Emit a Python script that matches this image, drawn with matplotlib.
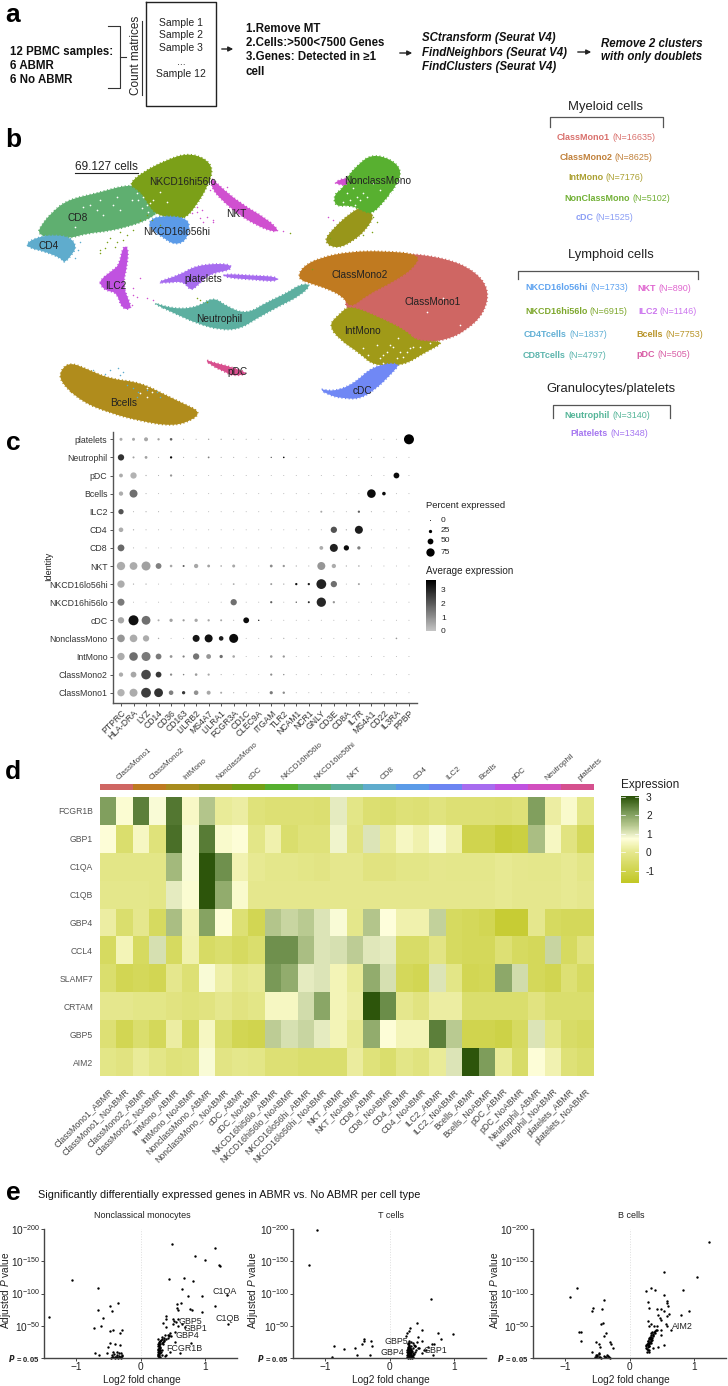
import numpy as np
import matplotlib
matplotlib.use("Agg")
import matplotlib.pyplot as plt
from matplotlib.colors import LinearSegmentedColormap
from matplotlib.path import Path
from matplotlib.patches import PathPatch

plt.rcParams['font.family'] = ['Liberation Sans', 'DejaVu Sans']
plt.rcParams['mathtext.fontset'] = 'custom'
plt.rcParams['mathtext.rm'] = 'Liberation Sans'
plt.rcParams['mathtext.it'] = 'Liberation Sans:italic'
plt.rcParams['mathtext.bf'] = 'Liberation Sans:bold'
plt.rcParams['mathtext.default'] = 'regular'

W, H = 728, 1386

# ---- panel b data: cluster outlines in umap units, draw order matters
umap_clusters = [
    ("CD8", "#5FAF70", [(112,325),(125,300),(150,268),(200,225),(290,205),(385,178),(440,190),(470,240),(475,262),(440,285),(400,300),(330,318),(260,325),(210,340),(150,340)]),
    ("CD4", "#5FACCD", [(78,355),(110,338),(150,330),(210,335),(230,365),(215,390),(192,415),(185,400),(130,378),(90,370)]),
    ("NKhi", "#7BA018", [(385,178),(430,140),(500,105),(560,85),(612,98),(640,130),(625,180),(590,240),(552,285),(500,278),(460,262),(435,220),(415,195)]),
    ("NKlo", "#5B9BE8", [(445,288),(480,272),(565,278),(568,320),(552,352),(520,358),(490,338),(455,315)]),
    ("NKT", "#D050D0", [(632,155),(660,185),(725,238),(795,278),(840,318),(815,320),(765,298),(715,268),(665,225),(635,190)]),
    ("IntLow", "#98961A", [(970,350),(1000,310),(1050,265),(1085,245),(1125,268),(1100,312),(1060,348),(1010,372)]),
    ("NC", "#58B030", [(1038,160),(1075,118),(1115,88),(1172,102),(1205,135),(1192,178),(1150,232),(1115,268),(1085,256),(1050,240),(1005,245),(1002,208),(1030,190)]),
    ("NCpink", "#D050D0", [(1002,172),(1042,156),(1042,182),(1015,178)]),
    ("CM1", "#CF6663", [(1200,382),(1340,400),(1425,438),(1468,495),(1452,565),(1400,615),(1340,645),(1250,655),(1200,640),(1100,590),(1020,540),(1080,470),(1150,410)]),
    ("CM2", "#C07A20", [(892,460),(908,425),(960,398),(1050,380),(1150,378),(1262,388),(1240,430),(1180,470),(1100,510),(1052,550),(1030,515),(980,490),(930,475)]),
    ("Int", "#A09A18", [(985,600),(1018,568),(1048,540),(1140,578),(1220,618),(1250,650),(1340,648),(1270,685),(1210,722),(1120,722),(1080,685),(1020,645)]),
    ("cDC", "#7088F5", [(955,790),(1000,800),(1060,778),(1120,722),(1205,712),(1172,748),(1130,790),(1080,822),(1030,820),(990,812)]),
    ("Neu", "#5CAFA0", [(445,528),(520,552),(590,548),(640,515),(680,545),(740,568),(800,532),(860,505),(900,478),(935,478),(900,512),(840,542),(770,580),(720,612),(660,615),(590,595),(530,568)]),
    ("plt", "#A76CEF", [(468,472),(540,450),(590,420),(690,415),(695,435),(630,445),(592,482),(572,498),(550,468),(500,474)]),
    ("plt2", "#A76CEF", [(668,446),(760,452),(832,455),(832,470),(760,464),(678,458)]),
    ("ILC2", "#C052E0", [(300,465),(335,438),(358,420),(368,365),(385,365),(382,420),(368,480),(388,530),(394,552),(366,552),(350,502),(320,498),(302,482)]),
    ("pDC", "#D84F8E", [(612,702),(640,713),(680,722),(750,745),(700,754),(670,738),(640,725)]),
    ("B", "#B08C1C", [(180,770),(182,735),(210,712),(260,732),(330,762),(420,772),(500,812),(555,838),(600,860),(580,884),(519,904),(420,888),(330,864),(245,830)]),
]
umap_labels = [("CD8",234,279),("CD4",146,362),("NKCD16hi56lo",548,170),("NKCD16lo56hi",530,322),("NKT",708,266),
               ("NonclassMono",1132,167),("ClassMono2",1080,449),("ClassMono1",1298,531),("IntMono",1086,618),("cDC",1088,797),
               ("ILC2",348,484),("platelets",610,463),("Neutrophil",658,583),("pDC",712,740),("Bcells",370,835)]
# stray cells outside the main blobs
stray_green_x = [330,350,370,345,300,315,600,620,590,870,1130,1120,1115,1090,440,420,455,480,400,380,360,320,300,935,1100,990]
stray_green_y = [340,350,345,365,385,370,525,530,520,323,290,275,320,330,270,285,285,300,315,330,320,352,375,432,300,340]
stray_pink_x = [600,620,640,590,610,640,985,1000,420,400,410,440,460,575,590,605,630,650,680,700,810,850,400,395]
stray_pink_y = [280,275,285,260,290,290,275,285,460,490,515,520,525,265,245,255,195,205,185,230,290,318,510,540]
stray_white_x = [430,415,440,450,290,270,310,1070,1050,1090,1200,1280,1330,1380,1150,1190,470,420,440,
                 340,360,395,410,425,460,480,500,445,1040,1060,1080,1030,1065,1100,1140,1170,1120,1230,1260,1290,
                 1130,1160,1140,1180,1210,1240,1105,1150,1170,1195,1220,1090,300,250,350,225,470,440,455]
stray_white_y = [215,225,240,235,255,240,270,215,225,205,680,560,520,600,690,700,160,805,815,
                 240,255,225,205,250,225,200,230,262,205,190,225,230,240,215,195,205,175,670,665,655,
                 660,680,700,665,695,665,690,715,660,640,680,670,225,245,215,305,780,790,800]
stray_blue_x = [280,330,370,315,360,355,400,415,440,470,480,380,410,235,240,225]
stray_blue_y = [735,735,740,748,750,730,790,800,795,800,815,780,815,375,350,400]

# ---- legend text next to umap
myeloid_entries = [("ClassMono1","(N=16635)","#D9706C",170,142),("ClassMono2","(N=8625)","#C0803A",178,202),
                   ("IntMono","(N=7176)","#ABA032",205,263),("NonClassMono","(N=5102)","#71B035",194,325),("cDC","(N=1525)","#8B9EF5",226,384)]
lymphoid_entries = [("NKCD16lo56hi","(N=1733)","#5FA3F0",77,592),("NKCD16hi56lo","(N=6915)","#7FA82E",75,663),
                    ("CD4Tcells","(N=1837)","#62B0D5",72,734),("CD8Tcells","(N=4797)","#5DB5AD",69,797),
                    ("NKT","(N=890)","#E066D0",413,595),("ILC2","(N=1146)","#CC77EE",414,666),
                    ("Bcells","(N=7753)","#B89428",408,734),("pDC","(N=505)","#D85CA5",408,793)]
other_entries = [("Neutrophil","(N=3140)","#55B598",194,977),("Platelets","(N=1348)","#A576F0",212,1030)]

# ---- panel c data
dot_genes = ["PTPRC","HLA-DRA","LYZ","CD14","CD36","CD163","LILRB2","MS4A7","LILRA1","FCGR3A","CD1C","CLEC9A",
             "ITGAM","TLR2","NCAM1","NCR1","GNLY","CD3E","CD8A","IL7R","MS4A1","CD22","IL3RA","PPBP"]
dot_rows = ["ClassMono1","ClassMono2","IntMono","NonclassMono","cDC","NKCD16hi56lo","NKCD16lo56hi","NKT","CD8","CD4","ILC2","Bcells","pDC","Neutrophil","platelets"]
dot_pct = [
    [65,72,90,80,38,25,38,32,12,4,2,1,24,16,2,2,3,2,2,2,2,2,2,2],
    [35,50,88,50,15,7,18,14,3,2,2,1,14,6,2,2,2,2,2,2,2,2,2,2],
    [65,78,82,50,20,14,55,40,25,18,2,2,18,15,2,2,2,2,2,2,2,2,2,2],
    [68,68,55,6,2,2,62,72,38,82,2,2,3,5,2,2,2,2,2,2,2,2,8,2],
    [55,92,80,12,25,14,25,15,12,3,50,6,2,2,2,2,2,2,2,2,2,2,2,2],
    [62,2,2,2,2,2,2,2,2,55,2,2,14,2,6,12,85,15,2,2,2,2,2,2],
    [65,5,5,2,2,2,2,2,2,10,2,2,12,5,15,15,90,55,2,12,2,2,2,2],
    [75,70,82,50,18,12,35,20,8,22,2,2,20,15,5,3,72,35,5,8,2,2,2,2],
    [60,3,3,2,2,2,2,2,2,2,2,2,2,2,2,2,30,72,45,25,2,2,2,2],
    [38,5,3,2,2,2,2,2,2,2,2,2,2,2,2,2,2,55,5,72,2,2,2,2],
    [45,3,4,3,3,2,2,2,2,2,2,2,2,2,2,2,12,3,2,15,3,2,2,2],
    [35,72,3,2,2,2,2,2,2,2,2,2,2,2,2,2,2,2,2,2,78,28,2,2],
    [30,55,5,3,15,2,2,2,2,2,2,2,2,2,2,2,2,2,2,2,2,2,50,2],
    [55,12,20,3,15,3,3,10,3,3,2,2,5,8,2,2,2,2,2,2,3,3,2,2],
    [22,22,32,15,18,3,3,6,5,4,3,2,3,3,2,2,3,3,2,2,2,2,2,92],
]
dot_avg = [
    [.3,.4,2.4,2.6,1.2,2.5,.9,.5,.5,.3,.3,.3,1.3,1,.3,.3,.3,.3,.3,.3,.3,.3,.3,.3],
    [.4,.5,2.2,2.5,1,1.2,.7,.5,.5,.3,.3,.3,1,1,.3,.3,.3,.3,.3,.3,.3,.3,.3,.3],
    [.4,1.5,1.3,1.3,.8,1.2,1.4,.8,1.5,.5,.3,.3,.7,.8,.3,.3,.3,.3,.3,.3,.3,.3,.3,.3],
    [.8,.4,.4,.5,.3,.3,3.1,3.2,3,3.3,.3,.3,.3,.3,.3,.3,.3,.3,.3,.3,.3,.3,.8,.3],
    [.5,3.2,1.5,.4,.6,.7,.5,.5,.5,.3,3.3,3,.3,.3,.3,.3,.3,.3,.3,.3,.3,.3,.3,.3],
    [1.3,.3,.3,.3,.3,.3,.3,.3,.3,1.5,.3,.3,1.8,.3,2,2.8,2.8,.8,.3,.3,.3,.3,.3,.3],
    [.4,.4,.4,.3,.3,.3,.3,.3,.3,.4,.3,.3,.7,.5,3.2,3,2.9,1.5,.3,.6,.3,.3,.3,.3],
    [.4,.4,.6,1.2,.5,1.8,.5,.6,.5,.5,.3,.3,1,.8,.4,.4,.8,.4,.4,.4,.3,.3,.3,.3],
    [1.6,.3,.3,.3,.3,.3,.3,.3,.3,.3,.3,.3,.3,.3,.3,.3,.4,2.9,3.3,1.2,.3,.3,.3,.3],
    [.4,.4,.3,.3,.3,.3,.3,.3,.3,.3,.3,.3,.3,.3,.3,.3,.3,2,.4,3,.3,.3,.3,.3],
    [2,.3,.4,.4,.4,.3,.3,.3,.3,.3,.3,.3,.3,.3,.3,.3,.5,.3,.3,1.8,.4,.3,.3,.3],
    [.4,1.5,.4,.3,.3,.3,.3,.3,.3,.3,.3,.3,.3,.3,.3,.3,.3,.3,.3,.3,3.3,3.3,.3,.3],
    [.4,.3,.4,.4,.8,.3,.3,.3,.3,.3,.3,.3,.3,.3,.3,.3,.3,.3,.3,.3,.3,.3,3.3,.3],
    [2.6,.6,.6,.5,3.3,.5,.5,1.2,.5,.5,.4,.4,2,3.3,.4,.4,.3,.3,.3,.3,.3,.3,.3,.3],
    [.4,.5,.5,.6,1.8,.4,.4,.5,.5,.4,.4,.3,.4,.4,.3,.3,.3,.3,.3,.3,.3,.3,.3,3.5],
]
pct_legend = [0,25,50,75]
avg_ticks = [0,1,2,3]

# ---- panel d data
heat_groups = ["ClassMono1","ClassMono2","IntMono","NonclassMono","cDC","NKCD16hi56lo","NKCD16lo56hi","NKT","CD8","CD4","ILC2","Bcells","pDC","Neutrophil","platelets"]
group_colors = ['#CF6663','#BE7A20','#A88C1E','#8F9218','#74A016','#56AF2F','#5CB06F','#5BAF9C','#5FACCD','#5B9BE8','#6C85F2','#A76CEF','#C052E0','#D24FBF','#D5508E']
heat_cols = []
for g in heat_groups:
    heat_cols += [g + "_ABMR", g + "_NoABMR"]
heat_genes = ["FCGR1B","GBP1","C1QA","C1QB","GBP4","CCL4","SLAMF7","CRTAM","GBP5","AIM2"]
heat_vals = [
    [2.1,.65,2.5,.8,2.6,.55,1.5,.1,.2,-.3,-.4,-.4,-.4,-.45,1.0,-.1,-.45,-.5,-.35,-.4,-.25,-.4,-.4,-.4,-.45,-.35,2.1,.2,.6,-.1],
    [.7,-.5,.5,-.3,2.7,.8,2.55,.6,.7,-.1,.3,-.5,-.3,-.3,.9,-.2,1.1,.1,.5,.3,.8,.3,-1,-1,-1.3,-1.2,1.6,.5,-.2,-.8],
    [-.1,-.1,-.1,-.1,1.7,.8,3,2.3,.35,.05,-.05,-.05,-.1,-.15,0,0,-.2,-.2,-.1,-.1,0,-.05,-.05,-.05,.05,0,-.05,-.05,.05,-.1],
    [-.05,-.05,-.05,-.1,1,.65,3,1.9,.6,0,0,0,0,0,0,0,0,0,0,0,0,0,0,0,.05,0,0,0,.05,0],
    [.2,-.5,0,-.7,1.6,.35,2.05,.7,-.4,-.9,1.5,1.3,1.45,1.1,.8,-.05,1.5,.75,.3,.3,1.35,-.7,-.8,-.9,-1.4,-1.4,0,-.7,-.8,-.8],
    [-.7,.4,-.7,1.15,-.7,.3,-.65,-.5,-.7,-.5,2.3,2.3,1.6,1.1,1.15,1.4,1.05,1,-.6,-.6,-.15,-.7,-.8,-.8,-.4,-.7,-.8,1.3,-.7,-.2],
    [-.5,-.9,-.8,-.9,0,-.4,.8,.25,-.05,.05,2.2,1.9,1,1.1,.4,.1,1.9,1.15,-.8,-.9,1.1,-.1,-.9,-.85,1.95,1.2,-.8,-.95,-.4,-.7],
    [0,0,-.1,-.1,-.2,-.3,-.2,0,-.2,-.1,.5,.5,1.2,2,.4,.2,3,2.35,0,-.2,.2,.2,-.5,-.5,-.5,-.5,-.2,-.5,-.5,-.5],
    [-.4,-.9,-.5,-.8,.2,-.7,.5,-.5,-.9,-1,1.4,1.15,1.3,1,.4,.05,1.9,.7,.4,.4,2.5,1.45,-1,-1,-1.1,-.7,1.1,-.1,-.6,-.7],
    [-.1,-.2,.1,-.1,-.3,-.25,.8,-.15,-.05,-.1,-.4,-.4,-.5,-.5,-.5,.15,-.3,-.5,-.1,-.25,.1,1.1,3,2.15,.1,-.6,.7,.35,-.35,-.5],
]
heat_ticks = [-1,0,1,2,3]

# ---- panel e data
mono_x = [.49,1.16,.85,1.0,1.22,1.24,.45,.67,.81,.65,.74,.96,1.34,1.16,.63,.56,.56,.59,.77,.8,.95,1.36,.4,.35,.39,.5,.51,.59,.64,.69,.53,.4,.46,.38,.33,.27,.53,.78,.46,.61,.27,.39,.52,.55,.58,.36,.42,.44,
          .27,.28,.29,.3,.31,.27,.28,.29,.3,.32,.33,.27,.28,.3,.31,.33,.35,.27,.29,.31,.34,.37,.27,.28,.3,.32,.36,.4,.27,.29,.33,.43,.28,.31,.38,.48,.27,.3,.35,.44,
          -1.07,-.66,-1.42,-.35,-.47,-.66,-.45,-.59,-.73,-.62,-.48,-.42,-.28,-.32,-.39,-.48,-.5,-.32,-.71,-.64,-.52,-.45,-.42,-.4,-.38,-.36,-.34,-.32,-.3,-.28,-.44,-.41,-.37,-.33,-.29,-.46,-.39,-.35,-.31,-.43,-.36,-.3]
mono_y = [176,171,158,152,144,143,122,124,120,107,96,96,97,80,86,83,77,74,76,74,72,53,65,54,60,61,53,60,53,48,40,48,38,35,33,30,25,23,9,7,4,4,58,56,50,31,36,34,
          22,24,25,27,26,18,19,20,21,28,29,14,15,16,17,24,25,10,11,12,13,28,6,7,8,9,26,30,3,4,5,31,1,2,3,34,12,13,22,36,
          121,109,64,85,81,75,73,62,46,49,42,43,44,39,22,23,17,20,8,5,7,1,2,1,2,1,3,2,1,3,4,6,5,7,5,0,0,0,0,9,9,8]
mono_genes = [("C1QA",1.30,103),("C1QB",1.35,61),("GBP5",.78,57),("GBP1",.85,46),("GBP4",.73,35),("FCGR1B",.68,15)]

tc_x = [-1.12,-1.25,.64,.42,.98,.75,.8,.32,.3,.27,.26,.5,.44,.5,.43,.37,.66,.69,.6,.53,.5,.67,.46,.4,.56,
        -.86,-.71,-.53,-.4,-.4,-.42,-.28,-.27,-.5,-.31,-.9,
        .27,.28,.29,.3,.31,.32,.33,.34,.35,.36,.27,.28,.29,.3,.31,.32,.33,.34,.35,.37,.27,.28,.29,.3,.31,.32,.33,.34,.36,.38,.27,.28,.29,.3,.31,.32,.33,.35,.39,.28,.29,.3,.31,.32,.34,.41,.28,.3,.33,.36,.29,.31,.4,.45,.3,.34,.38]
tc_y = [198,144,91,55,37,39,30,46,42,38,34,43,33,27,25,23,22,21,17,12,7,4,15,18,13,
        18,14,16,30,27,22,27,18,5,4,2,
        1,0,2,1,3,0,1,2,0,1,5,4,6,5,7,4,6,5,3,5,9,8,10,9,11,8,10,9,8,6,13,12,14,13,15,12,14,11,9,17,16,18,17,16,13,12,21,20,19,15,24,23,19,16,26,25,20]
tc_genes = [("GBP5",.10,25),("GBP4",.05,9),("GBP1",.72,11)]

bc_x = [1.23,.54,1.05,.33,.26,.4,.83,.53,.58,.59,.28,.3,.42,.49,.53,.6,.92,.8,.62,.58,.44,.47,.49,.29,.33,.3,.38,.43,.56,.59,.64,.49,.49,.53,.44,.36,.3,
        .26,.26,.27,.27,.28,.28,.29,.29,.3,.3,.31,.31,.32,.32,.33,.33,.34,.34,.35,.35,.36,.37,.38,.39,.4,.41,.42,.27,.28,.3,.31,.33,.35,.37,.26,.28,.29,.31,.32,.34,
        -.81,-.92,-.39,-.56,-.59,-.42,-.41,-.45,-.78,-.76,-.76,-.37,-.4,-.52,-.48,-.46,-.31,-.28,-.26,-.59,-.48,
        -.54,-.52,-.5,-.48,-.46,-.44,-.38,-.36,-.34,-.32,-.3,-.5,-.47,-.52,-.4,-.35]
bc_y = [180,133,125,109,104,105,106,98,89,86,87,78,76,76,73,80,73,66,68,65,66,62,59,58,53,49,50,50,52,50,44,43,35,20,17,16,9,
        15,18,14,21,17,24,20,26,18,29,22,31,25,33,27,36,30,38,31,40,35,37,40,39,42,43,44,10,13,12,19,23,28,34,20,22,27,24,29,33,
        109,95,90,77,73,76,55,52,41,40,27,39,34,25,22,17,25,21,16,10,8,
        2,1,3,1,2,0,2,1,3,1,0,5,6,4,3,4]
bc_genes = [("AIM2",.82,49)]

volcano_panels = [("Nonclassical monocytes",44,mono_x,mono_y,mono_genes,6),
                  ("T cells",293,tc_x,tc_y,tc_genes,253),
                  ("B cells",533,bc_x,bc_y,bc_genes,495)]

def ax_px(x0, y0, x1, y1):
    return fig.add_axes([x0/W, 1-y1/H, (x1-x0)/W, (y1-y0)/H])

def smooth_path(pts):
    # closed quadratic spline through the edge midpoints
    p = np.array(pts, dtype=float)
    mids = (p + np.roll(p, -1, axis=0)) / 2
    verts = [mids[-1]]
    codes = [Path.MOVETO]
    for i in range(len(p)):
        verts += [p[i], mids[i]]
        codes += [Path.CURVE3, Path.CURVE3]
    return Path(verts, codes)

fig = plt.figure(figsize=(W/100, H/100), dpi=100)
bg = fig.add_axes([0,0,1,1])
bg.set_xlim(0,W)
bg.set_ylim(H,0)
bg.axis('off')

for lab, y in [("a",15),("b",140),("c",443),("d",772),("e",1193)]:
    bg.text(13, y, lab, fontsize=19, fontweight='bold', ha='center', va='center')

# ---------- panel a
for s, y in [("12 PBMC samples:",52),("6 ABMR",66),("6 No ABMR",80)]:
    bg.text(10, y, s, fontsize=8.3, fontweight='bold', va='center', color='#111111')
bg.plot([108,120,120,108],[26,26,88,88],color='#333333',lw=0.8)
bg.plot([120,126],[57,57],color='#333333',lw=0.8)
bg.text(136, 55, "Count matrices", fontsize=8.5, rotation=90, ha='center', va='center', color='#222222')
bg.plot([142,142],[21,95],color='#333333',lw=0.8)
bg.plot([146,216,216,146,146],[2,2,106,106,2],color='#222222',lw=1.0)
for s, y in [("Sample 1",23),("Sample 2",35),("Sample 3",48),("...",62),("Sample 12",74)]:
    bg.text(181, y, s, fontsize=7.5, ha='center', va='center', color='#222222')
for x0, x1, y in [(219,236,49),(397,415,53),(575,594,52)]:
    bg.annotate("", xy=(x1,y), xytext=(x0,y), arrowprops=dict(arrowstyle='-|>', color='#222222', lw=1, mutation_scale=7))
for s, y in [("1.Remove MT",29),("2.Cells:>500<7500 Genes",43),("3.Genes: Detected in ≥1",57),("cell",72)]:
    bg.text(246, y, s, fontsize=8.3, fontweight='bold', va='center', color='#111111')
for s, y in [("SCtransform (Seurat V4)",38),("FindNeighbors (Seurat V4)",53),("FindClusters (Seurat V4)",67)]:
    bg.text(422, y, s, fontsize=8.3, fontweight='bold', style='italic', va='center', color='#111111')
for s, y in [("Remove 2 clusters",44),("with only doublets",57)]:
    bg.text(601, y, s, fontsize=8.3, fontweight='bold', style='italic', va='center', color='#111111')

# ---------- panel b
um = ax_px(0,125,510,430)
um.set_xlim(0,1530)
um.set_ylim(915,0)
um.axis('off')
um.patch.set_alpha(0)
for name, col, pts in umap_clusters:
    um.add_patch(PathPatch(smooth_path(pts), facecolor=col, edgecolor='none', lw=0))
    # grainy border
    um.add_patch(PathPatch(smooth_path(pts), facecolor='none', edgecolor=col, lw=1.3, ls=(0,(0.6,1.4))))
um.scatter(stray_green_x, stray_green_y, s=1.2, color="#7BA018", lw=0)
um.scatter(stray_pink_x, stray_pink_y, s=1.2, color="#D050D0", lw=0)
um.scatter(stray_blue_x, stray_blue_y, s=1.2, color="#5FACCD", lw=0)
um.scatter(stray_white_x, stray_white_y, s=1.5, color="white", lw=0)
for s, x, y in umap_labels:
    um.text(x, y, s, fontsize=7.3, ha='center', va='center', color='#222222')
bg.text(75, 167, "69.127 cells", fontsize=8.5, va='center', color='#222222')
bg.plot([75,138],[173,173],color='#222222',lw=0.8)

# legend lists on the right
def two_part(entry):
    name, n, col, zx, zy = entry
    x = 500 + zx/3
    y = 90 + zy/3
    t = bg.text(x, y, name, fontsize=6.5, fontweight='bold', color=col, va='center')
    fig.canvas.draw()
    bb = t.get_window_extent()
    bg.text(bb.x1 + 2.5, y, n, fontsize=6.5, color=col, va='center')

for e in myeloid_entries + lymphoid_entries + other_entries:
    two_part(e)
for s, y in [("Myeloid cells",107),("Lymphoid cells",255),("Granulocytes/platelets",389)]:
    xc = 606 if y == 107 else 611
    bg.text(xc, y, s, fontsize=9.4, ha='center', va='center', color='#222222')
for x0, x1, y0, y1 in [(550,663,117,127),(518,698,271,279),(553,670,405,418)]:
    bg.plot([x0,x0,x1,x1],[y1,y0,y0,y1],color='#555555',lw=0.9)

# ---------- panel c
dot = ax_px(113,432,417,703)
dot_xp = np.arange(len(dot_genes))
dot_yp = np.arange(len(dot_rows))
dot.set_xlim((113-121)/12.52, (417-121)/12.52)
dot.set_ylim((703-692.7)/-18.1, (692.7-432)/18.1)
dotcmap = LinearSegmentedColormap.from_list("dots", ["#C4C4C4","#000000"])
def pct_size(p):
    d = 0.8 + np.asarray(p)*0.1
    return (d*0.72)**2
for i in dot_yp:
    dot.scatter(dot_xp, [i]*len(dot_genes), s=pct_size(dot_pct[i]), c=dot_avg[i], cmap=dotcmap, vmin=-0.03, vmax=3.5, lw=0)
for sp in ['top','right']:
    dot.spines[sp].set_visible(False)
for sp in ['left','bottom']:
    dot.spines[sp].set_color('#555555')
    dot.spines[sp].set_linewidth(1.0)
dot.set_xticks(dot_xp)
dot.set_xticklabels(dot_genes, rotation=45, ha='right', rotation_mode='anchor', fontsize=6.2, color='#333333')
dot.set_yticks(dot_yp)
dot.set_yticklabels(dot_rows, fontsize=6.3, color='#333333')
dot.tick_params(length=2.5, width=0.7, color='#555555', pad=1.5)
bg.text(49, 566, "Identity", fontsize=6.5, rotation=90, ha='center', va='center', color='#222222')

bg.text(426, 506, "Percent expressed", fontsize=6.8, va='center', color='#222222')
bg.text(426, 571, "Average expression", fontsize=7.1, va='center', color='#222222')
for p, y in zip(pct_legend, [520,531,541,552]):
    bg.scatter([430],[y], s=pct_size(p), color='black', lw=0)
    bg.text(441, y, str(p), fontsize=6, va='center', color='#222222')
cb = ax_px(426,580,436,631)
grad = np.linspace(0,1,64).reshape(-1,1)
cb.imshow(grad, aspect='auto', cmap=dotcmap, origin='lower', extent=[0,1,-0.03,3.73])
cb.set_xticks([])
cb.yaxis.tick_right()
cb.set_yticks(avg_ticks)
cb.set_yticklabels([str(v) for v in avg_ticks], fontsize=6, color='#222222')
cb.tick_params(length=0, pad=3.5)
for sp in cb.spines.values():
    sp.set_visible(False)

# ---------- panel d
heatcmap = LinearSegmentedColormap.from_list("heat", [
    (0.0,"#C2C825"),(1.65/4.7,"#E6E88E"),(2.4/4.7,"#FFFFDC"),(3.15/4.7,"#B4C68C"),(3.85/4.7,"#7A9A58"),(1.0,"#2A5208")])
hm = ax_px(100,797,594,1076)
hm.imshow(np.array(heat_vals), aspect='auto', cmap=heatcmap, vmin=-1.65, vmax=3.05, interpolation='nearest')
hm.set_xticks(np.arange(len(heat_cols)))
hm.set_xticklabels(heat_cols, rotation=45, ha='right', rotation_mode='anchor', fontsize=6.3, color='#444444')
hm.set_yticks(np.arange(len(heat_genes)))
hm.set_yticklabels(heat_genes, fontsize=6.2, color='#555555')
hm.tick_params(axis='y', length=0, pad=5)
hm.tick_params(axis='x', length=0, pad=8)
for sp in hm.spines.values():
    sp.set_visible(False)
bar = ax_px(100,784,594,790)
bar.set_xlim(0,len(heat_groups))
bar.set_ylim(0,1)
bar.axis('off')
bar.bar(np.arange(len(heat_groups)), [1]*len(heat_groups), width=1, align='edge', color=group_colors)
for i, g in enumerate(heat_groups):
    bar.text(i+0.62, 1.4, g, rotation=42, ha='left', va='bottom', rotation_mode='anchor', fontsize=5.8, color='#444444')
bg.text(621, 785, "Expression", fontsize=8.5, va='center', color='#222222')
cb2 = ax_px(621,796,639,883)
cb2.imshow(grad, aspect='auto', cmap=heatcmap, origin='lower', extent=[0,1,-1.65,3.05])
cb2.set_xticks([])
cb2.yaxis.tick_right()
cb2.set_yticks(heat_ticks)
cb2.set_yticklabels([str(v) for v in heat_ticks], fontsize=7.3, color='#222222')
cb2.tick_params(length=0, pad=5)
for sp in cb2.spines.values():
    sp.set_visible(False)
for v in heat_ticks:
    cb2.plot([0,0.2],[v,v],color='white',lw=0.5)
    cb2.plot([0.8,1],[v,v],color='white',lw=0.5)
cb2.set_xlim(0,1)

# ---------- panel e
bg.text(38, 1195, "Significantly differentially expressed genes in ABMR vs. No ABMR per cell type", fontsize=7.8, va='center', color='#111111')
for title, left, xv, yv, genes, ylab_x in volcano_panels:
    ax = ax_px(left,1229,left+193,1358)
    ax.set_xlim(-1.5,1.5)
    ax.set_ylim(0,200)
    ax.axvline(0, color='#DDDDDD', lw=0.7, ls=':', zorder=0)
    ax.scatter(xv, yv, s=3, color='black', lw=0, clip_on=False)
    for g, gx, gy in genes:
        ax.text(gx, gy, g, fontsize=6.4, ha='center', va='center', color='#222222')
    for sp in ['top','right']:
        ax.spines[sp].set_visible(False)
    for sp in ['left','bottom']:
        ax.spines[sp].set_color('#444444')
        ax.spines[sp].set_linewidth(1.0)
    ax.set_xticks([-1,0,1])
    ax.set_xticklabels(['\u22121','0','1'], fontsize=7.3, color='#222222')
    ax.set_yticks([0,50,100,150,200])
    ax.set_yticklabels([r'$\mathbfit{P}$ $\mathbf{= 0.05}$', r'$10^{-50}$', r'$10^{-100}$', r'$10^{-150}$', r'$10^{-200}$'], fontsize=7.3, color='#222222')
    ax.get_yticklabels()[0].set_fontsize(5.5)
    ax.tick_params(length=2, width=0.7, color='#444444', pad=1)
    bg.text(left+98, 1215, title, fontsize=6.5, ha='center', va='center', color='#222222')
    bg.text(left+98, 1380, "Log2 fold change", fontsize=7.3, ha='center', va='center', color='#222222')
    bg.text(ylab_x, 1290, r"Adjusted $\mathit{P}$ value", fontsize=7.3, rotation=90, ha='center', va='center', color='#222222')

fig.savefig("out.png", dpi=100)
